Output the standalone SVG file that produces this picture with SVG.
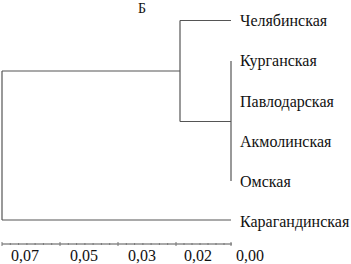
<svg xmlns="http://www.w3.org/2000/svg" width="351" height="264" viewBox="0 0 351 264">
<style>
.t{font-family:'Liberation Serif','DejaVu Serif',serif;font-size:16px;fill:#111}
.s{font-size:14px}
.l{stroke:#555;stroke-width:1.2;fill:none}
.k{stroke:#777;stroke-width:1;fill:none}
</style>
<rect width="351" height="264" fill="#fff"/>
<text class="t s" x="142" y="12.5" text-anchor="middle">Б</text>
<g id="connectors">
<path class="l" d="M180,20.5 H231"/>
<path class="l" d="M180,20.5 V121.5"/>
<path class="l" d="M231,61 V181"/>
<path class="l" d="M180,121.5 H231"/>
<path class="l" d="M2,71 H180"/>
<path class="l" d="M2,71 V220"/>
<path class="l" d="M2,220 H231"/>
</g>
<g id="n-chel"><text class="t" x="240" y="26">Челябинская</text></g>
<g id="n-kurg"><text class="t" x="240" y="66">Курганская</text></g>
<g id="n-pavl"><text class="t" x="240" y="107">Павлодарская</text></g>
<g id="n-akm"><text class="t" x="240" y="147">Акмолинская</text></g>
<g id="n-omsk"><text class="t" x="240" y="187">Омская</text></g>
<g id="n-karag"><text class="t" x="240" y="227">Карагандинская</text></g>
<g id="axis">
<path class="l" d="M2,244 H232"/>
<path class="k" d="M2,242 V246 M60,242 V246 M118,242 V246 M176,242 V246 M231,242 V246"/>
<path class="k" d="M10.3,243 V245 M18.6,243 V245 M26.9,243 V245 M35.1,243 V245 M43.4,243 V245 M51.7,243 V245 M68.3,243 V245 M76.6,243 V245 M84.9,243 V245 M93.1,243 V245 M101.4,243 V245 M109.7,243 V245 M126.3,243 V245 M134.6,243 V245 M142.9,243 V245 M151.1,243 V245 M159.4,243 V245 M167.7,243 V245 M184,243 V245 M192,243 V245 M200,243 V245 M208,243 V245 M216,243 V245 M224,243 V245"/>
<text class="t" x="11" y="261">0,07</text>
<text class="t" x="70" y="261">0,05</text>
<text class="t" x="128" y="261">0,03</text>
<text class="t" x="184" y="261">0,02</text>
<text class="t" x="236" y="261">0,00</text>
</g>
</svg>
